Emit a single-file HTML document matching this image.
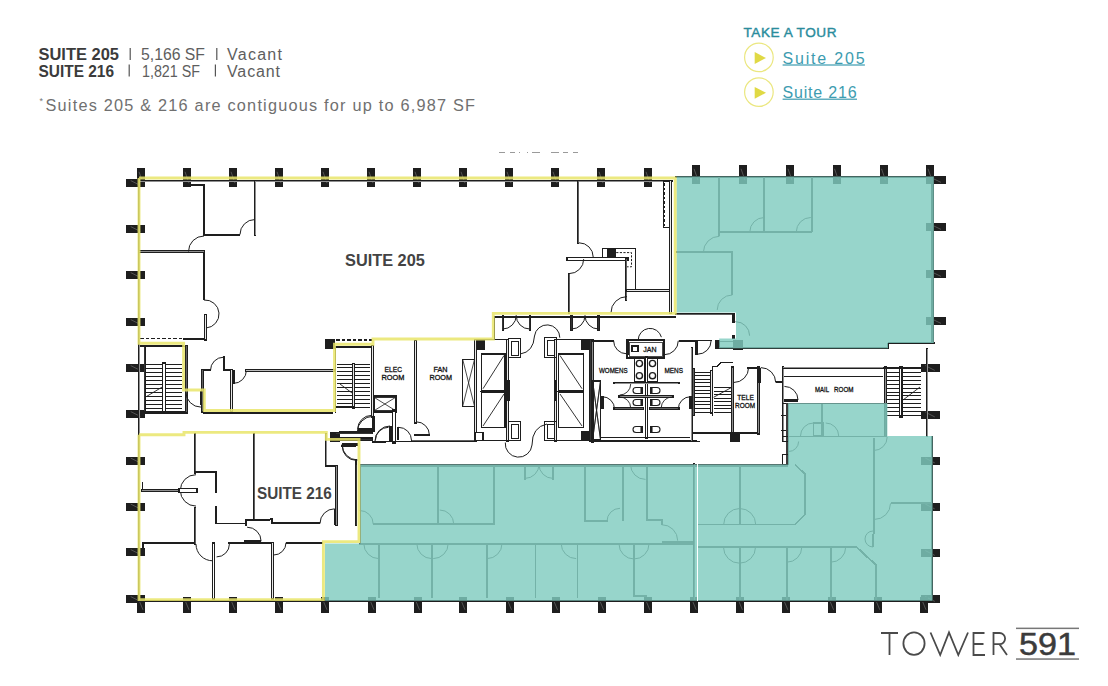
<!DOCTYPE html>
<html><head><meta charset="utf-8"><style>
html,body{margin:0;padding:0;background:#fff;}
body{width:1108px;height:686px;overflow:hidden;position:relative;}
svg{position:absolute;left:0;top:0;font-family:"Liberation Sans",sans-serif;}
#plan line,#plan polyline,#plan rect{shape-rendering:crispEdges;}
#plan polyline.y{shape-rendering:auto;}
</style></head><body>
<svg width="1108" height="686" viewBox="0 0 1108 686">
<g font-family="Liberation Sans">
<text x="38.5" y="60" font-weight="bold" font-size="16" fill="#3b3b3b" textLength="80.5" lengthAdjust="spacingAndGlyphs">SUITE 205</text>
<rect x="129.6" y="48" width="1.2" height="12" fill="#555"/>
<text x="141" y="60" font-size="16" fill="#5e5e5e" textLength="64" lengthAdjust="spacingAndGlyphs">5,166 SF</text>
<rect x="216.2" y="48" width="1.2" height="12" fill="#555"/>
<text x="227" y="60" font-size="16" fill="#5e5e5e" textLength="55" lengthAdjust="spacing">Vacant</text>
<text x="38.5" y="76.5" font-weight="bold" font-size="16" fill="#3b3b3b" textLength="75.5" lengthAdjust="spacingAndGlyphs">SUITE 216</text>
<rect x="128.6" y="64.5" width="1.2" height="12" fill="#555"/>
<text x="142" y="76.5" font-size="16" fill="#5e5e5e" textLength="58" lengthAdjust="spacingAndGlyphs">1,821 SF</text>
<rect x="214.8" y="64.5" width="1.2" height="12" fill="#555"/>
<text x="227" y="76.5" font-size="16" fill="#5e5e5e" textLength="53" lengthAdjust="spacing">Vacant</text>
<text x="39.5" y="104" font-size="9" fill="#777">*</text>
<text x="45.5" y="111" font-size="16.3" fill="#707070" textLength="429.5" lengthAdjust="spacing">Suites 205 &amp; 216 are contiguous for up to 6,987 SF</text>
<text x="743.5" y="37" font-size="13.6" fill="#2a8c9c" stroke="#2a8c9c" stroke-width="0.4" textLength="93" lengthAdjust="spacing">TAKE A TOUR</text>
<circle cx="758.9" cy="57.4" r="14.3" fill="none" stroke="#ebe780" stroke-width="1.2"/>
<polygon points="754.7,52 754.7,64 766,58" fill="#e0d944"/>
<text x="782.6" y="64.2" font-size="16" fill="#3d9cb0" textLength="82" lengthAdjust="spacing">Suite 205</text>
<rect x="782.6" y="64.4" width="82.3" height="1.2" fill="#3d9cb0"/>
<circle cx="758.9" cy="92.1" r="14.3" fill="none" stroke="#ebe780" stroke-width="1.2"/>
<polygon points="754.7,86.9 754.7,98.7 766,92.8" fill="#e0d944"/>
<text x="782.6" y="98.2" font-size="16" fill="#3d9cb0" textLength="74" lengthAdjust="spacing">Suite 216</text>
<rect x="782.6" y="98.6" width="74.4" height="1.2" fill="#3d9cb0"/>
</g>
<g stroke="#4a4a4a" stroke-width="1.8" fill="none" stroke-linecap="butt">
<path d="M881,633 H898 M889.5,633 V655"/>
<ellipse cx="914" cy="643.6" rx="10.6" ry="11.2"/>
<path d="M930.5,632.5 L940.2,655 L949,632.5 L958.3,655 L968,632.5"/>
<path d="M984.5,633 H973.5 V655 H985 M973.5,644 H983.5"/>
<path d="M993.5,655 V633 H999.5 A5.6,5.6 0 0 1 999.5,644.2 H993.5 M999.5,644.2 L1007,655"/>
</g>
<rect x="1016" y="627.6" width="63" height="1.5" fill="#777"/>
<text x="1019" y="655.3" font-family="Liberation Sans" font-size="31" fill="#3b3b3b" stroke="#3b3b3b" stroke-width="0.5" textLength="57" lengthAdjust="spacingAndGlyphs">591</text>
<rect x="1016" y="658.3" width="63" height="1.5" fill="#777"/>

<g id="plan">
<rect x="137" y="168" width="8" height="19" fill="#1e1e1e" />
<line x1="139" y1="171.8" x2="143" y2="183.2" stroke="#888" stroke-width="0.5"  style="shape-rendering:auto"/>
<rect x="183" y="168" width="8" height="19" fill="#1e1e1e" />
<line x1="185" y1="171.8" x2="189" y2="183.2" stroke="#888" stroke-width="0.5"  style="shape-rendering:auto"/>
<rect x="229" y="168" width="8" height="19" fill="#1e1e1e" />
<line x1="231" y1="171.8" x2="235" y2="183.2" stroke="#888" stroke-width="0.5"  style="shape-rendering:auto"/>
<rect x="275" y="168" width="8" height="19" fill="#1e1e1e" />
<line x1="277" y1="171.8" x2="281" y2="183.2" stroke="#888" stroke-width="0.5"  style="shape-rendering:auto"/>
<rect x="321" y="168" width="8" height="19" fill="#1e1e1e" />
<line x1="323" y1="171.8" x2="327" y2="183.2" stroke="#888" stroke-width="0.5"  style="shape-rendering:auto"/>
<rect x="367" y="168" width="8" height="19" fill="#1e1e1e" />
<line x1="369" y1="171.8" x2="373" y2="183.2" stroke="#888" stroke-width="0.5"  style="shape-rendering:auto"/>
<rect x="413" y="168" width="8" height="19" fill="#1e1e1e" />
<line x1="415" y1="171.8" x2="419" y2="183.2" stroke="#888" stroke-width="0.5"  style="shape-rendering:auto"/>
<rect x="459" y="168" width="8" height="19" fill="#1e1e1e" />
<line x1="461" y1="171.8" x2="465" y2="183.2" stroke="#888" stroke-width="0.5"  style="shape-rendering:auto"/>
<rect x="505" y="168" width="8" height="19" fill="#1e1e1e" />
<line x1="507" y1="171.8" x2="511" y2="183.2" stroke="#888" stroke-width="0.5"  style="shape-rendering:auto"/>
<rect x="551" y="168" width="8" height="19" fill="#1e1e1e" />
<line x1="553" y1="171.8" x2="557" y2="183.2" stroke="#888" stroke-width="0.5"  style="shape-rendering:auto"/>
<rect x="597" y="168" width="8" height="19" fill="#1e1e1e" />
<line x1="599" y1="171.8" x2="603" y2="183.2" stroke="#888" stroke-width="0.5"  style="shape-rendering:auto"/>
<rect x="644" y="168" width="8" height="19" fill="#1e1e1e" />
<line x1="646" y1="171.8" x2="650" y2="183.2" stroke="#888" stroke-width="0.5"  style="shape-rendering:auto"/>
<rect x="692" y="165" width="8" height="19" fill="#1e1e1e" />
<line x1="694" y1="168.8" x2="698" y2="180.2" stroke="#888" stroke-width="0.5"  style="shape-rendering:auto"/>
<rect x="739" y="165" width="8" height="19" fill="#1e1e1e" />
<line x1="741" y1="168.8" x2="745" y2="180.2" stroke="#888" stroke-width="0.5"  style="shape-rendering:auto"/>
<rect x="786" y="165" width="8" height="19" fill="#1e1e1e" />
<line x1="788" y1="168.8" x2="792" y2="180.2" stroke="#888" stroke-width="0.5"  style="shape-rendering:auto"/>
<rect x="832.5" y="165" width="8" height="19" fill="#1e1e1e" />
<line x1="834.5" y1="168.8" x2="838.5" y2="180.2" stroke="#888" stroke-width="0.5"  style="shape-rendering:auto"/>
<rect x="879.5" y="165" width="8" height="19" fill="#1e1e1e" />
<line x1="881.5" y1="168.8" x2="885.5" y2="180.2" stroke="#888" stroke-width="0.5"  style="shape-rendering:auto"/>
<rect x="926" y="165" width="8" height="19" fill="#1e1e1e" />
<line x1="928" y1="168.8" x2="932" y2="180.2" stroke="#888" stroke-width="0.5"  style="shape-rendering:auto"/>
<rect x="926" y="176" width="20" height="8" fill="#1e1e1e" />
<line x1="931" y1="177.6" x2="941" y2="182.4" stroke="#888" stroke-width="0.5"  style="shape-rendering:auto"/>
<rect x="126" y="179" width="19" height="8" fill="#1e1e1e" />
<line x1="130.75" y1="180.6" x2="140.25" y2="185.4" stroke="#888" stroke-width="0.5"  style="shape-rendering:auto"/>
<rect x="126" y="225" width="19" height="8" fill="#1e1e1e" />
<line x1="130.75" y1="226.6" x2="140.25" y2="231.4" stroke="#888" stroke-width="0.5"  style="shape-rendering:auto"/>
<rect x="126" y="271" width="19" height="8" fill="#1e1e1e" />
<line x1="130.75" y1="272.6" x2="140.25" y2="277.4" stroke="#888" stroke-width="0.5"  style="shape-rendering:auto"/>
<rect x="126" y="318" width="19" height="8" fill="#1e1e1e" />
<line x1="130.75" y1="319.6" x2="140.25" y2="324.4" stroke="#888" stroke-width="0.5"  style="shape-rendering:auto"/>
<rect x="126" y="364" width="19" height="8" fill="#1e1e1e" />
<line x1="130.75" y1="365.6" x2="140.25" y2="370.4" stroke="#888" stroke-width="0.5"  style="shape-rendering:auto"/>
<rect x="126" y="410" width="19" height="8" fill="#1e1e1e" />
<line x1="130.75" y1="411.6" x2="140.25" y2="416.4" stroke="#888" stroke-width="0.5"  style="shape-rendering:auto"/>
<rect x="126" y="456.5" width="19" height="8" fill="#1e1e1e" />
<line x1="130.75" y1="458.1" x2="140.25" y2="462.9" stroke="#888" stroke-width="0.5"  style="shape-rendering:auto"/>
<rect x="126" y="502.5" width="19" height="8" fill="#1e1e1e" />
<line x1="130.75" y1="504.1" x2="140.25" y2="508.9" stroke="#888" stroke-width="0.5"  style="shape-rendering:auto"/>
<rect x="126" y="548" width="19" height="8" fill="#1e1e1e" />
<line x1="130.75" y1="549.6" x2="140.25" y2="554.4" stroke="#888" stroke-width="0.5"  style="shape-rendering:auto"/>
<rect x="126" y="595" width="19" height="8" fill="#1e1e1e" />
<line x1="130.75" y1="596.6" x2="140.25" y2="601.4" stroke="#888" stroke-width="0.5"  style="shape-rendering:auto"/>
<rect x="926" y="223" width="20" height="8" fill="#1e1e1e" />
<line x1="931" y1="224.6" x2="941" y2="229.4" stroke="#888" stroke-width="0.5"  style="shape-rendering:auto"/>
<rect x="926" y="270" width="20" height="8" fill="#1e1e1e" />
<line x1="931" y1="271.6" x2="941" y2="276.4" stroke="#888" stroke-width="0.5"  style="shape-rendering:auto"/>
<rect x="926" y="317" width="20" height="8" fill="#1e1e1e" />
<line x1="931" y1="318.6" x2="941" y2="323.4" stroke="#888" stroke-width="0.5"  style="shape-rendering:auto"/>
<rect x="920.5" y="364" width="19" height="8" fill="#1e1e1e" />
<line x1="925.25" y1="365.6" x2="934.75" y2="370.4" stroke="#888" stroke-width="0.5"  style="shape-rendering:auto"/>
<rect x="920.5" y="410.5" width="19" height="8" fill="#1e1e1e" />
<line x1="925.25" y1="412.1" x2="934.75" y2="416.9" stroke="#888" stroke-width="0.5"  style="shape-rendering:auto"/>
<rect x="920.5" y="456.5" width="19" height="8" fill="#1e1e1e" />
<line x1="925.25" y1="458.1" x2="934.75" y2="462.9" stroke="#888" stroke-width="0.5"  style="shape-rendering:auto"/>
<rect x="920.5" y="502.5" width="19" height="8" fill="#1e1e1e" />
<line x1="925.25" y1="504.1" x2="934.75" y2="508.9" stroke="#888" stroke-width="0.5"  style="shape-rendering:auto"/>
<rect x="920.5" y="549" width="19" height="8" fill="#1e1e1e" />
<line x1="925.25" y1="550.6" x2="934.75" y2="555.4" stroke="#888" stroke-width="0.5"  style="shape-rendering:auto"/>
<rect x="920.5" y="595" width="19" height="8" fill="#1e1e1e" />
<line x1="925.25" y1="596.6" x2="934.75" y2="601.4" stroke="#888" stroke-width="0.5"  style="shape-rendering:auto"/>
<rect x="137" y="597" width="8" height="16" fill="#1e1e1e" />
<line x1="139" y1="600.2" x2="143" y2="609.8" stroke="#888" stroke-width="0.5"  style="shape-rendering:auto"/>
<rect x="183" y="597" width="8" height="16" fill="#1e1e1e" />
<line x1="185" y1="600.2" x2="189" y2="609.8" stroke="#888" stroke-width="0.5"  style="shape-rendering:auto"/>
<rect x="229" y="597" width="8" height="16" fill="#1e1e1e" />
<line x1="231" y1="600.2" x2="235" y2="609.8" stroke="#888" stroke-width="0.5"  style="shape-rendering:auto"/>
<rect x="275" y="597" width="8" height="16" fill="#1e1e1e" />
<line x1="277" y1="600.2" x2="281" y2="609.8" stroke="#888" stroke-width="0.5"  style="shape-rendering:auto"/>
<rect x="321" y="597" width="8" height="16" fill="#1e1e1e" />
<line x1="323" y1="600.2" x2="327" y2="609.8" stroke="#888" stroke-width="0.5"  style="shape-rendering:auto"/>
<rect x="368" y="597" width="8" height="16" fill="#1e1e1e" />
<line x1="370" y1="600.2" x2="374" y2="609.8" stroke="#888" stroke-width="0.5"  style="shape-rendering:auto"/>
<rect x="413.5" y="597" width="8" height="16" fill="#1e1e1e" />
<line x1="415.5" y1="600.2" x2="419.5" y2="609.8" stroke="#888" stroke-width="0.5"  style="shape-rendering:auto"/>
<rect x="459" y="597" width="8" height="16" fill="#1e1e1e" />
<line x1="461" y1="600.2" x2="465" y2="609.8" stroke="#888" stroke-width="0.5"  style="shape-rendering:auto"/>
<rect x="505.5" y="597" width="8" height="16" fill="#1e1e1e" />
<line x1="507.5" y1="600.2" x2="511.5" y2="609.8" stroke="#888" stroke-width="0.5"  style="shape-rendering:auto"/>
<rect x="551.5" y="597" width="8" height="16" fill="#1e1e1e" />
<line x1="553.5" y1="600.2" x2="557.5" y2="609.8" stroke="#888" stroke-width="0.5"  style="shape-rendering:auto"/>
<rect x="597.6" y="597" width="8" height="16" fill="#1e1e1e" />
<line x1="599.6" y1="600.2" x2="603.6" y2="609.8" stroke="#888" stroke-width="0.5"  style="shape-rendering:auto"/>
<rect x="643.8" y="597" width="8" height="16" fill="#1e1e1e" />
<line x1="645.8" y1="600.2" x2="649.8" y2="609.8" stroke="#888" stroke-width="0.5"  style="shape-rendering:auto"/>
<rect x="690.2" y="597" width="8" height="16" fill="#1e1e1e" />
<line x1="692.2" y1="600.2" x2="696.2" y2="609.8" stroke="#888" stroke-width="0.5"  style="shape-rendering:auto"/>
<rect x="736.4" y="597" width="8" height="16" fill="#1e1e1e" />
<line x1="738.4" y1="600.2" x2="742.4" y2="609.8" stroke="#888" stroke-width="0.5"  style="shape-rendering:auto"/>
<rect x="781.8" y="597" width="8" height="16" fill="#1e1e1e" />
<line x1="783.8" y1="600.2" x2="787.8" y2="609.8" stroke="#888" stroke-width="0.5"  style="shape-rendering:auto"/>
<rect x="827.6" y="597" width="8" height="16" fill="#1e1e1e" />
<line x1="829.6" y1="600.2" x2="833.6" y2="609.8" stroke="#888" stroke-width="0.5"  style="shape-rendering:auto"/>
<rect x="873.8" y="597" width="8" height="16" fill="#1e1e1e" />
<line x1="875.8" y1="600.2" x2="879.8" y2="609.8" stroke="#888" stroke-width="0.5"  style="shape-rendering:auto"/>
<rect x="920" y="597" width="8" height="16" fill="#1e1e1e" />
<line x1="922" y1="600.2" x2="926" y2="609.8" stroke="#888" stroke-width="0.5"  style="shape-rendering:auto"/>
<rect x="325" y="339" width="10" height="10" fill="#1e1e1e" />
<rect x="474.5" y="340" width="10" height="10" fill="#1e1e1e" />
<rect x="581" y="340" width="10" height="10" fill="#1e1e1e" />
<rect x="581" y="431" width="10" height="10" fill="#1e1e1e" />
<rect x="729.5" y="431.5" width="10" height="10" fill="#1e1e1e" />
<rect x="732.5" y="339.5" width="10" height="10" fill="#1e1e1e" />
<rect x="330" y="431.6" width="10" height="10" fill="#1e1e1e" />
<polyline points="139,181 672,181" stroke="#1e1e1e" stroke-width="2.6" fill="none" stroke-linecap="square"/>
<polyline points="139,181 672,181" stroke="#fff" stroke-width="0.5" fill="none"/>
<line x1="675" y1="177" x2="935" y2="177" stroke="#1e1e1e" stroke-width="1.5" />
<polyline points="139,179 139,601" stroke="#1e1e1e" stroke-width="2.6" fill="none" stroke-linecap="square"/>
<polyline points="139,179 139,601" stroke="#fff" stroke-width="0.5" fill="none"/>
<line x1="139" y1="601.2" x2="933" y2="601.2" stroke="#1e1e1e" stroke-width="1.6" />
<line x1="932.5" y1="177" x2="932.5" y2="343" stroke="#1e1e1e" stroke-width="2.2" />
<polyline points="927,349 927,436" stroke="#1e1e1e" stroke-width="2.6" fill="none" stroke-linecap="square"/>
<polyline points="927,349 927,436" stroke="#fff" stroke-width="0.5" fill="none"/>
<line x1="932" y1="436" x2="932" y2="601" stroke="#1e1e1e" stroke-width="2.2" />
<polyline points="191,184.5 204,184.5 204,234.5 240,234.5" stroke="#1e1e1e" stroke-width="2.0" fill="none" />
<path d="M240,234.5 A15,15 0 0 1 255,219.5" stroke="#1e1e1e" stroke-width="1.0" fill="none" />
<polyline points="255,181 255,234.5" stroke="#1e1e1e" stroke-width="2.6" fill="none" stroke-linecap="square"/>
<polyline points="255,181 255,234.5" stroke="#fff" stroke-width="0.5" fill="none"/>
<polyline points="139,251.5 204,251.5" stroke="#1e1e1e" stroke-width="2.6" fill="none" stroke-linecap="square"/>
<polyline points="139,251.5 204,251.5" stroke="#fff" stroke-width="0.5" fill="none"/>
<path d="M188.5,251.5 A15.5,15.5 0 0 1 204,236" stroke="#1e1e1e" stroke-width="1.0" fill="none" />
<polyline points="204,251.5 204,300" stroke="#1e1e1e" stroke-width="2.0" fill="none" />
<path d="M204,300 A14,14 0 0 1 206,328" stroke="#1e1e1e" stroke-width="1.0" fill="none" />
<polyline points="205,315 205,339" stroke="#1e1e1e" stroke-width="3" fill="none" stroke-linecap="square"/>
<polyline points="205,315 205,339" stroke="#fff" stroke-width="0.9" fill="none"/>
<polyline points="182.5,339 204,339" stroke="#1e1e1e" stroke-width="2.0" fill="none" />
<line x1="140" y1="338.7" x2="182.5" y2="338.7" stroke="#1e1e1e" stroke-width="1.3" stroke-dasharray="3.5,2"/>
<polyline points="578,181 578,242.8" stroke="#1e1e1e" stroke-width="2.4" fill="none" stroke-linecap="square"/>
<polyline points="578,181 578,242.8" stroke="#fff" stroke-width="0.3" fill="none"/>
<path d="M579,242.8 A14.2,14.2 0 0 1 593.2,257" stroke="#1e1e1e" stroke-width="1.0" fill="none" />
<polyline points="568,259 627,259" stroke="#1e1e1e" stroke-width="3.2" fill="none" stroke-linecap="square"/>
<polyline points="568,259 627,259" stroke="#fff" stroke-width="1.1" fill="none"/>
<path d="M583.7,259.1 A14.5,14.5 0 0 1 569.2,273.6" stroke="#1e1e1e" stroke-width="1.0" fill="none" />
<polyline points="569,274.4 569,312.6" stroke="#1e1e1e" stroke-width="2.4" fill="none" stroke-linecap="square"/>
<polyline points="569,274.4 569,312.6" stroke="#fff" stroke-width="0.3" fill="none"/>
<rect x="602" y="248.2" width="5.4" height="8.8" fill="none" stroke="#1e1e1e" stroke-width="1.0"/>
<rect x="607.4" y="249.3" width="8.8" height="7.7" fill="#1e1e1e" />
<path d="M616.2,252.6 H631.5 V266.8 H627" stroke="#1e1e1e" stroke-width="1.0" fill="none" stroke-dasharray="2.2,1.4"/>
<polyline points="602,248.2 635.8,248.2 635.8,288.6" stroke="#1e1e1e" stroke-width="1.3" fill="none" />
<polyline points="626,259 626,299.5" stroke="#1e1e1e" stroke-width="2.4" fill="none" stroke-linecap="square"/>
<polyline points="626,259 626,299.5" stroke="#fff" stroke-width="0.3" fill="none"/>
<path d="M611,312.6 A16,16 0 0 1 627,296.6" stroke="#1e1e1e" stroke-width="1.0" fill="none" />
<polyline points="627,290.2 669.7,290.2" stroke="#1e1e1e" stroke-width="3" fill="none" stroke-linecap="square"/>
<polyline points="627,290.2 669.7,290.2" stroke="#fff" stroke-width="0.9" fill="none"/>
<polyline points="670.2,181 670.2,312.6" stroke="#1e1e1e" stroke-width="3" fill="none" stroke-linecap="square"/>
<polyline points="670.2,181 670.2,312.6" stroke="#fff" stroke-width="0.9" fill="none"/>
<rect x="663.1" y="181" width="5.9" height="46.4" fill="none" stroke="#1e1e1e" stroke-width="1.0"/>
<line x1="664.5" y1="183" x2="664.5" y2="226" stroke="#1e1e1e" stroke-width="1.1" stroke-dasharray="2.5,2"/>
<polyline points="502.7,316 502.7,329.5" stroke="#1e1e1e" stroke-width="2.2" fill="none" stroke-linecap="square"/>
<polyline points="502.7,316 502.7,329.5" stroke="#fff" stroke-width="0.1" fill="none"/>
<polyline points="529.7,316 529.7,329.5" stroke="#1e1e1e" stroke-width="2.2" fill="none" stroke-linecap="square"/>
<polyline points="529.7,316 529.7,329.5" stroke="#fff" stroke-width="0.1" fill="none"/>
<path d="M502.7,329 A13.5,13.5 0 0 0 516.2,315.5" stroke="#1e1e1e" stroke-width="1.0" fill="none" />
<path d="M529.7,329 A13.5,13.5 0 0 1 516.2,315.5" stroke="#1e1e1e" stroke-width="1.0" fill="none" />
<polyline points="571.5,316 571.5,329.5" stroke="#1e1e1e" stroke-width="2.2" fill="none" stroke-linecap="square"/>
<polyline points="571.5,316 571.5,329.5" stroke="#fff" stroke-width="0.1" fill="none"/>
<polyline points="598.5,316 598.5,329.5" stroke="#1e1e1e" stroke-width="2.2" fill="none" stroke-linecap="square"/>
<polyline points="598.5,316 598.5,329.5" stroke="#fff" stroke-width="0.1" fill="none"/>
<path d="M571.5,329 A13.5,13.5 0 0 0 585,315.5" stroke="#1e1e1e" stroke-width="1.0" fill="none" />
<path d="M598.5,329 A13.5,13.5 0 0 1 585,315.5" stroke="#1e1e1e" stroke-width="1.0" fill="none" />
<line x1="494.5" y1="316.8" x2="676" y2="316.8" stroke="#1e1e1e" stroke-width="2.0" />
<line x1="494.5" y1="316" x2="494.5" y2="340" stroke="#1e1e1e" stroke-width="1.4" />
<line x1="145.4" y1="364.5" x2="161.5" y2="364.5" stroke="#1e1e1e" stroke-width="1.0" />
<line x1="145.4" y1="368.5" x2="161.5" y2="368.5" stroke="#1e1e1e" stroke-width="1.0" />
<line x1="145.4" y1="372.5" x2="161.5" y2="372.5" stroke="#1e1e1e" stroke-width="1.0" />
<line x1="145.4" y1="376.5" x2="161.5" y2="376.5" stroke="#1e1e1e" stroke-width="1.0" />
<line x1="145.4" y1="380.5" x2="161.5" y2="380.5" stroke="#1e1e1e" stroke-width="1.0" />
<line x1="145.4" y1="384.5" x2="161.5" y2="384.5" stroke="#1e1e1e" stroke-width="1.0" />
<line x1="145.4" y1="388.5" x2="161.5" y2="388.5" stroke="#1e1e1e" stroke-width="1.0" />
<line x1="145.4" y1="392.5" x2="161.5" y2="392.5" stroke="#1e1e1e" stroke-width="1.0" />
<line x1="145.4" y1="396.5" x2="161.5" y2="396.5" stroke="#1e1e1e" stroke-width="1.0" />
<line x1="145.4" y1="400.5" x2="161.5" y2="400.5" stroke="#1e1e1e" stroke-width="1.0" />
<line x1="145.4" y1="404.5" x2="161.5" y2="404.5" stroke="#1e1e1e" stroke-width="1.0" />
<line x1="145.4" y1="408.5" x2="161.5" y2="408.5" stroke="#1e1e1e" stroke-width="1.0" />
<line x1="145.4" y1="412.5" x2="161.5" y2="412.5" stroke="#1e1e1e" stroke-width="1.0" />
<line x1="165.9" y1="364.5" x2="181.6" y2="364.5" stroke="#1e1e1e" stroke-width="1.0" />
<line x1="165.9" y1="368.5" x2="181.6" y2="368.5" stroke="#1e1e1e" stroke-width="1.0" />
<line x1="165.9" y1="372.5" x2="181.6" y2="372.5" stroke="#1e1e1e" stroke-width="1.0" />
<line x1="165.9" y1="376.5" x2="181.6" y2="376.5" stroke="#1e1e1e" stroke-width="1.0" />
<line x1="165.9" y1="380.5" x2="181.6" y2="380.5" stroke="#1e1e1e" stroke-width="1.0" />
<line x1="165.9" y1="384.5" x2="181.6" y2="384.5" stroke="#1e1e1e" stroke-width="1.0" />
<line x1="165.9" y1="388.5" x2="181.6" y2="388.5" stroke="#1e1e1e" stroke-width="1.0" />
<line x1="165.9" y1="392.5" x2="181.6" y2="392.5" stroke="#1e1e1e" stroke-width="1.0" />
<line x1="165.9" y1="396.5" x2="181.6" y2="396.5" stroke="#1e1e1e" stroke-width="1.0" />
<line x1="165.9" y1="400.5" x2="181.6" y2="400.5" stroke="#1e1e1e" stroke-width="1.0" />
<line x1="165.9" y1="404.5" x2="181.6" y2="404.5" stroke="#1e1e1e" stroke-width="1.0" />
<line x1="165.9" y1="408.5" x2="181.6" y2="408.5" stroke="#1e1e1e" stroke-width="1.0" />
<line x1="165.9" y1="412.5" x2="181.6" y2="412.5" stroke="#1e1e1e" stroke-width="1.0" />
<polyline points="163.7,364 163.7,412.3" stroke="#1e1e1e" stroke-width="4.2" fill="none" stroke-linecap="square"/>
<polyline points="163.7,364 163.7,412.3" stroke="#fff" stroke-width="2.1" fill="none"/>
<line x1="145" y1="397.4" x2="162.4" y2="386.9" stroke="#1e1e1e" stroke-width="0.9"  style="shape-rendering:auto"/>
<polyline points="144.7,346 144.7,412.3" stroke="#1e1e1e" stroke-width="2.2" fill="none" stroke-linecap="square"/>
<polyline points="144.7,346 144.7,412.3" stroke="#fff" stroke-width="0.1" fill="none"/>
<line x1="144" y1="412.5" x2="186" y2="412.5" stroke="#1e1e1e" stroke-width="2.2" />
<line x1="183.4" y1="346" x2="186.5" y2="346" stroke="#1e1e1e" stroke-width="1" />
<line x1="140" y1="346.2" x2="184" y2="346.2" stroke="#1e1e1e" stroke-width="2.0" />
<polyline points="186.5,346 186.5,412.3" stroke="#1e1e1e" stroke-width="2.4" fill="none" stroke-linecap="square"/>
<polyline points="186.5,346 186.5,412.3" stroke="#fff" stroke-width="0.3" fill="none"/>
<path d="M185.9,392.1 A15,15 0 0 0 200.9,407.1" stroke="#1e1e1e" stroke-width="1.0" fill="none" />
<rect x="200" y="391.3" width="2.8" height="14" fill="#1e1e1e" />
<polyline points="202.6,370.3 202.6,411.4" stroke="#1e1e1e" stroke-width="2.4" fill="none" stroke-linecap="square"/>
<polyline points="202.6,370.3 202.6,411.4" stroke="#fff" stroke-width="0.3" fill="none"/>
<polyline points="202.6,370.3 210.5,370.3" stroke="#1e1e1e" stroke-width="2.0" fill="none" />
<path d="M210.5,370.3 A13.1,13.1 0 0 1 223.6,357.2" stroke="#1e1e1e" stroke-width="1.0" fill="none" />
<rect x="222.8" y="356.3" width="2.6" height="14.7" fill="#1e1e1e" />
<polyline points="225.4,370.3 231.5,370.3" stroke="#1e1e1e" stroke-width="2.0" fill="none" />
<polyline points="231.5,370.3 231.5,410.5" stroke="#1e1e1e" stroke-width="3" fill="none" stroke-linecap="square"/>
<polyline points="231.5,370.3 231.5,410.5" stroke="#fff" stroke-width="0.9" fill="none"/>
<path d="M246.4,370.3 A13.1,13.1 0 0 1 233.3,383.4" stroke="#1e1e1e" stroke-width="1.0" fill="none" />
<rect x="232.5" y="370.3" width="2.6" height="14" fill="#1e1e1e" />
<polyline points="246.4,370.7 333.7,370.7" stroke="#1e1e1e" stroke-width="2.8" fill="none" stroke-linecap="square"/>
<polyline points="246.4,370.7 333.7,370.7" stroke="#fff" stroke-width="0.7" fill="none"/>
<line x1="203" y1="413" x2="333" y2="413" stroke="#1e1e1e" stroke-width="1.4" />
<line x1="335.5" y1="346" x2="335.5" y2="413" stroke="#1e1e1e" stroke-width="1.8" />
<line x1="337" y1="364.5" x2="352.5" y2="364.5" stroke="#1e1e1e" stroke-width="1.0" />
<line x1="337" y1="367.5" x2="352.5" y2="367.5" stroke="#1e1e1e" stroke-width="1.0" />
<line x1="337" y1="371.5" x2="352.5" y2="371.5" stroke="#1e1e1e" stroke-width="1.0" />
<line x1="337" y1="375.5" x2="352.5" y2="375.5" stroke="#1e1e1e" stroke-width="1.0" />
<line x1="337" y1="379.5" x2="352.5" y2="379.5" stroke="#1e1e1e" stroke-width="1.0" />
<line x1="337" y1="383.5" x2="352.5" y2="383.5" stroke="#1e1e1e" stroke-width="1.0" />
<line x1="337" y1="387.5" x2="352.5" y2="387.5" stroke="#1e1e1e" stroke-width="1.0" />
<line x1="337" y1="391.5" x2="352.5" y2="391.5" stroke="#1e1e1e" stroke-width="1.0" />
<line x1="337" y1="395.5" x2="352.5" y2="395.5" stroke="#1e1e1e" stroke-width="1.0" />
<line x1="337" y1="399.5" x2="352.5" y2="399.5" stroke="#1e1e1e" stroke-width="1.0" />
<line x1="337" y1="403.5" x2="352.5" y2="403.5" stroke="#1e1e1e" stroke-width="1.0" />
<line x1="337" y1="407.5" x2="352.5" y2="407.5" stroke="#1e1e1e" stroke-width="1.0" />
<line x1="354.4" y1="364.5" x2="370.2" y2="364.5" stroke="#1e1e1e" stroke-width="1.0" />
<line x1="354.4" y1="367.5" x2="370.2" y2="367.5" stroke="#1e1e1e" stroke-width="1.0" />
<line x1="354.4" y1="371.5" x2="370.2" y2="371.5" stroke="#1e1e1e" stroke-width="1.0" />
<line x1="354.4" y1="375.5" x2="370.2" y2="375.5" stroke="#1e1e1e" stroke-width="1.0" />
<line x1="354.4" y1="379.5" x2="370.2" y2="379.5" stroke="#1e1e1e" stroke-width="1.0" />
<line x1="354.4" y1="383.5" x2="370.2" y2="383.5" stroke="#1e1e1e" stroke-width="1.0" />
<line x1="354.4" y1="387.5" x2="370.2" y2="387.5" stroke="#1e1e1e" stroke-width="1.0" />
<line x1="354.4" y1="391.5" x2="370.2" y2="391.5" stroke="#1e1e1e" stroke-width="1.0" />
<line x1="354.4" y1="395.5" x2="370.2" y2="395.5" stroke="#1e1e1e" stroke-width="1.0" />
<line x1="354.4" y1="399.5" x2="370.2" y2="399.5" stroke="#1e1e1e" stroke-width="1.0" />
<line x1="354.4" y1="403.5" x2="370.2" y2="403.5" stroke="#1e1e1e" stroke-width="1.0" />
<line x1="354.4" y1="407.5" x2="370.2" y2="407.5" stroke="#1e1e1e" stroke-width="1.0" />
<polyline points="353.5,364 353.5,407.5" stroke="#1e1e1e" stroke-width="3" fill="none" stroke-linecap="square"/>
<polyline points="353.5,364 353.5,407.5" stroke="#fff" stroke-width="0.9" fill="none"/>
<line x1="340" y1="384" x2="352" y2="393" stroke="#1e1e1e" stroke-width="0.9"  style="shape-rendering:auto"/>
<line x1="336" y1="340" x2="372" y2="340" stroke="#1e1e1e" stroke-width="1.2" stroke-dasharray="3.5,2"/>
<line x1="336" y1="407.3" x2="354" y2="407.3" stroke="#1e1e1e" stroke-width="2.2" />
<line x1="336" y1="346.7" x2="372.3" y2="346.7" stroke="#1e1e1e" stroke-width="2.0" />
<polyline points="372,346 372,416" stroke="#1e1e1e" stroke-width="3" fill="none" stroke-linecap="square"/>
<polyline points="372,346 372,416" stroke="#fff" stroke-width="0.9" fill="none"/>
<polyline points="415,341 415,422" stroke="#1e1e1e" stroke-width="3" fill="none" stroke-linecap="square"/>
<polyline points="415,341 415,422" stroke="#fff" stroke-width="0.9" fill="none"/>
<rect x="373.5" y="396.4" width="22.9" height="15.1" fill="none" stroke="#1e1e1e" stroke-width="2.0"/>
<rect x="374.5" y="397.6" width="20.7" height="12.8" fill="none" stroke="#1e1e1e" stroke-width="0.9"/>
<line x1="374.5" y1="397.6" x2="395.2" y2="410.4" stroke="#1e1e1e" stroke-width="0.8"  style="shape-rendering:auto"/>
<line x1="395.2" y1="397.6" x2="374.5" y2="410.4" stroke="#1e1e1e" stroke-width="0.8"  style="shape-rendering:auto"/>
<polyline points="393.8,411.5 393.8,441.7" stroke="#1e1e1e" stroke-width="4.5" fill="none" stroke-linecap="square"/>
<polyline points="393.8,411.5 393.8,441.7" stroke="#fff" stroke-width="2.4" fill="none"/>
<path d="M357.7,429.2 A13.8,13.8 0 0 1 371.5,415.4" stroke="#1e1e1e" stroke-width="1.0" fill="none" />
<rect x="357.7" y="428.4" width="13.8" height="2.2" fill="#1e1e1e" />
<polyline points="340,432.5 371.5,432.5" stroke="#1e1e1e" stroke-width="2.2" fill="none" stroke-linecap="square"/>
<polyline points="340,432.5 371.5,432.5" stroke="#fff" stroke-width="0.1" fill="none"/>
<polyline points="340,438.2 371.5,438.2" stroke="#1e1e1e" stroke-width="2.2" fill="none" stroke-linecap="square"/>
<polyline points="340,438.2 371.5,438.2" stroke="#fff" stroke-width="0.1" fill="none"/>
<path d="M375.4,440.4 A13.1,13.1 0 0 1 388.5,427.3" stroke="#1e1e1e" stroke-width="1.0" fill="none" />
<rect x="388.5" y="427.3" width="2" height="13.1" fill="#1e1e1e" />
<path d="M398.4,427.3 A13.1,13.1 0 0 1 411.5,440.4" stroke="#1e1e1e" stroke-width="1.0" fill="none" />
<rect x="397" y="427.3" width="2" height="13.1" fill="#1e1e1e" />
<path d="M416.1,421.8 A13.3,13.3 0 0 1 429.4,435.1" stroke="#1e1e1e" stroke-width="1.0" fill="none" />
<rect x="413.5" y="433.8" width="16.5" height="2" fill="#1e1e1e" />
<polyline points="412,440.7 475,440.7" stroke="#1e1e1e" stroke-width="2.4" fill="none" stroke-linecap="square"/>
<polyline points="412,440.7 475,440.7" stroke="#fff" stroke-width="0.3" fill="none"/>
<line x1="372" y1="441.5" x2="386" y2="441.5" stroke="#1e1e1e" stroke-width="2.0" />
<path d="M342,444.3 A15.7,15.7 0 0 0 357.7,460" stroke="#1e1e1e" stroke-width="1.0" fill="none" />
<rect x="342" y="443.3" width="15.7" height="2.8" fill="#1e1e1e" />
<line x1="356.3" y1="459" x2="356.3" y2="470" stroke="#1e1e1e" stroke-width="2.2" />
<polyline points="475.5,340 475.5,440.4" stroke="#1e1e1e" stroke-width="3" fill="none" stroke-linecap="square"/>
<polyline points="475.5,340 475.5,440.4" stroke="#fff" stroke-width="0.9" fill="none"/>
<polyline points="507.5,340 507.5,440.4" stroke="#1e1e1e" stroke-width="3" fill="none" stroke-linecap="square"/>
<polyline points="507.5,340 507.5,440.4" stroke="#fff" stroke-width="0.9" fill="none"/>
<line x1="474" y1="339.6" x2="509" y2="339.6" stroke="#1e1e1e" stroke-width="1.5" />
<line x1="474" y1="440.6" x2="509" y2="440.6" stroke="#1e1e1e" stroke-width="1.5" />
<rect x="481.7" y="354" width="23.3" height="36.2" fill="none" stroke="#1e1e1e" stroke-width="1.3"/>
<line x1="483" y1="388.7" x2="504" y2="355.5" stroke="#1e1e1e" stroke-width="0.9"  style="shape-rendering:auto"/>
<rect x="481.7" y="392.5" width="23.3" height="35" fill="none" stroke="#1e1e1e" stroke-width="1.3"/>
<line x1="483" y1="426" x2="504" y2="394" stroke="#1e1e1e" stroke-width="0.9"  style="shape-rendering:auto"/>
<line x1="480" y1="391.4" x2="507" y2="391.4" stroke="#1e1e1e" stroke-width="1.4" />
<rect x="506.6" y="379.7" width="3.5" height="21" fill="#1e1e1e" />
<rect x="475.5" y="432.5" width="7.5" height="7.9" fill="#fff" stroke="#1e1e1e" stroke-width="1.1"/>
<rect x="508.5" y="338.8" width="11.7" height="18.7" fill="none" stroke="#1e1e1e" stroke-width="1.4"/>
<rect x="511" y="341" width="7" height="14" fill="none" stroke="#1e1e1e" stroke-width="1.0"/>
<rect x="508.5" y="421.7" width="11.7" height="18.7" fill="none" stroke="#1e1e1e" stroke-width="1.4"/>
<rect x="511" y="424" width="7" height="14" fill="none" stroke="#1e1e1e" stroke-width="1.0"/>
<polyline points="555,340 555,440.4" stroke="#1e1e1e" stroke-width="3" fill="none" stroke-linecap="square"/>
<polyline points="555,340 555,440.4" stroke="#fff" stroke-width="0.9" fill="none"/>
<polyline points="590.5,340 590.5,440.4" stroke="#1e1e1e" stroke-width="2.2" fill="none" stroke-linecap="square"/>
<polyline points="590.5,340 590.5,440.4" stroke="#fff" stroke-width="0.1" fill="none"/>
<line x1="553.5" y1="339.6" x2="592" y2="339.6" stroke="#1e1e1e" stroke-width="1.5" />
<line x1="553.5" y1="440.6" x2="592" y2="440.6" stroke="#1e1e1e" stroke-width="1.5" />
<rect x="558.7" y="354" width="24.5" height="36.2" fill="none" stroke="#1e1e1e" stroke-width="1.3"/>
<line x1="560" y1="355.5" x2="582" y2="388.7" stroke="#1e1e1e" stroke-width="0.9"  style="shape-rendering:auto"/>
<rect x="558.7" y="392.5" width="24.5" height="35" fill="none" stroke="#1e1e1e" stroke-width="1.3"/>
<line x1="560" y1="394" x2="582" y2="426" stroke="#1e1e1e" stroke-width="0.9"  style="shape-rendering:auto"/>
<line x1="557" y1="391.4" x2="584" y2="391.4" stroke="#1e1e1e" stroke-width="1.4" />
<rect x="553.5" y="379.7" width="3.5" height="21" fill="#1e1e1e" />
<rect x="544.7" y="337.7" width="11.6" height="19.8" fill="none" stroke="#1e1e1e" stroke-width="1.4"/>
<rect x="547" y="340" width="7" height="15" fill="none" stroke="#1e1e1e" stroke-width="1.0"/>
<rect x="544.7" y="421.7" width="11.6" height="18.7" fill="none" stroke="#1e1e1e" stroke-width="1.4"/>
<rect x="547" y="424" width="7" height="14" fill="none" stroke="#1e1e1e" stroke-width="1.0"/>
<path d="M520.2,354 Q533.5,352 534.5,336 A12.7,12.7 0 0 1 559.8,337.7" stroke="#1e1e1e" stroke-width="1.0" fill="none" />
<path d="M547,424 Q532,427 532,445 A13.3,13.3 0 0 1 505.3,442.5" stroke="#1e1e1e" stroke-width="1.0" fill="none" />
<rect x="462.7" y="359.4" width="11.8" height="46.8" fill="none" stroke="#1e1e1e" stroke-width="1.3"/>
<line x1="462.7" y1="359.4" x2="474.5" y2="406.2" stroke="#1e1e1e" stroke-width="0.8"  style="shape-rendering:auto"/>
<line x1="474.5" y1="359.4" x2="462.7" y2="406.2" stroke="#1e1e1e" stroke-width="0.8"  style="shape-rendering:auto"/>
<rect x="592.6" y="381" width="7.9" height="58.6" fill="none" stroke="#1e1e1e" stroke-width="1.3"/>
<line x1="592.6" y1="381" x2="600.5" y2="439.6" stroke="#1e1e1e" stroke-width="0.8"  style="shape-rendering:auto"/>
<line x1="600.5" y1="381" x2="592.6" y2="439.6" stroke="#1e1e1e" stroke-width="0.8"  style="shape-rendering:auto"/>
<line x1="591.5" y1="340" x2="591.5" y2="441" stroke="#1e1e1e" stroke-width="1.6" />
<line x1="600.8" y1="381" x2="600.8" y2="441" stroke="#1e1e1e" stroke-width="1.2" />
<polyline points="592.2,339.9 592.2,441.3" stroke="#1e1e1e" stroke-width="2.6" fill="none" stroke-linecap="square"/>
<polyline points="592.2,339.9 592.2,441.3" stroke="#fff" stroke-width="0.5" fill="none"/>
<line x1="591" y1="440.5" x2="697" y2="440.5" stroke="#1e1e1e" stroke-width="2.0" />
<line x1="602" y1="437.6" x2="690" y2="437.6" stroke="#1e1e1e" stroke-width="1.0" />
<polyline points="592.2,340.7 613.6,340.7" stroke="#1e1e1e" stroke-width="1.8" fill="none" />
<path d="M613.6,340.7 A13.1,13.1 0 0 0 626.7,353.8" stroke="#1e1e1e" stroke-width="1.0" fill="none" />
<rect x="625.9" y="340.7" width="2.6" height="14" fill="#1e1e1e" />
<rect x="626.7" y="340.2" width="37.6" height="18" fill="none" stroke="#1e1e1e" stroke-width="2.0"/>
<rect x="629" y="342.5" width="33" height="13.5" fill="none" stroke="#1e1e1e" stroke-width="0.8"/>
<rect x="632" y="346" width="6" height="5.2" fill="none" stroke="#1e1e1e" stroke-width="1.3"/>
<path d="M638.2,340.2 A11.8,11.8 0 0 1 661.4,337.15" stroke="#1e1e1e" stroke-width="1.0" fill="none" />
<polyline points="679.2,340.7 696.7,340.7" stroke="#1e1e1e" stroke-width="1.8" fill="none" />
<path d="M678.3,340.7 A14,14 0 0 1 664.3,354.7" stroke="#1e1e1e" stroke-width="1.0" fill="none" />
<polyline points="691.9,348 691.9,441" stroke="#1e1e1e" stroke-width="2.6" fill="none" stroke-linecap="square"/>
<polyline points="691.9,348 691.9,441" stroke="#fff" stroke-width="0.5" fill="none"/>
<rect x="695" y="340.7" width="2.6" height="14" fill="#1e1e1e" />
<path d="M711.1,340.7 A13.5,13.5 0 0 1 697.6,354.2" stroke="#1e1e1e" stroke-width="1.0" fill="none" />
<line x1="697" y1="340.7" x2="712" y2="340.7" stroke="#1e1e1e" stroke-width="1.4" />
<rect x="634.6" y="358.2" width="9.6" height="23.6" fill="none" stroke="#1e1e1e" stroke-width="1.1"/>
<rect x="647.7" y="358.2" width="9.6" height="23.6" fill="none" stroke="#1e1e1e" stroke-width="1.1"/>
<circle cx="639.4" cy="363.5" r="3.1" fill="none" stroke="#1e1e1e" stroke-width="1.4"/>
<circle cx="639.4" cy="375.7" r="3.1" fill="none" stroke="#1e1e1e" stroke-width="1.4"/>
<circle cx="652.5" cy="363.5" r="3.1" fill="none" stroke="#1e1e1e" stroke-width="1.4"/>
<circle cx="652.5" cy="375.7" r="3.1" fill="none" stroke="#1e1e1e" stroke-width="1.4"/>
<polyline points="646.4,358.2 646.4,437" stroke="#1e1e1e" stroke-width="3.6" fill="none" stroke-linecap="square"/>
<polyline points="646.4,358.2 646.4,437" stroke="#fff" stroke-width="1.5" fill="none"/>
<polyline points="614.5,383.1 678.3,383.1" stroke="#1e1e1e" stroke-width="2.6" fill="none" stroke-linecap="square"/>
<polyline points="614.5,383.1 678.3,383.1" stroke="#fff" stroke-width="0.5" fill="none"/>
<polyline points="619.7,396.3 672.2,396.3" stroke="#1e1e1e" stroke-width="2.6" fill="none" stroke-linecap="square"/>
<polyline points="619.7,396.3 672.2,396.3" stroke="#fff" stroke-width="0.5" fill="none"/>
<polyline points="614.5,408.5 643,408.5" stroke="#1e1e1e" stroke-width="2.4" fill="none" stroke-linecap="square"/>
<polyline points="614.5,408.5 643,408.5" stroke="#fff" stroke-width="0.3" fill="none"/>
<polyline points="650,408.5 678.3,408.5" stroke="#1e1e1e" stroke-width="2.4" fill="none" stroke-linecap="square"/>
<polyline points="650,408.5 678.3,408.5" stroke="#fff" stroke-width="0.3" fill="none"/>
<path d="M641,387.5 h-5 a3,3 0 0 0 0,6 h5 z" stroke="#1e1e1e" stroke-width="1.1" fill="none" />
<rect x="641" y="386.7" width="2.2" height="7.6" fill="#1e1e1e" />
<path d="M652,387.5 h5 a3,3 0 0 1 0,6 h-5 z" stroke="#1e1e1e" stroke-width="1.1" fill="none" />
<rect x="649.8" y="386.7" width="2.2" height="7.6" fill="#1e1e1e" />
<path d="M641,399.5 h-5 a3,3 0 0 0 0,6 h5 z" stroke="#1e1e1e" stroke-width="1.1" fill="none" />
<rect x="641" y="398.7" width="2.2" height="7.6" fill="#1e1e1e" />
<path d="M652,399.5 h5 a3,3 0 0 1 0,6 h-5 z" stroke="#1e1e1e" stroke-width="1.1" fill="none" />
<rect x="649.8" y="398.7" width="2.2" height="7.6" fill="#1e1e1e" />
<path d="M641,426.5 h-5 a3,3 0 0 0 0,6 h5 z" stroke="#1e1e1e" stroke-width="1.1" fill="none" />
<rect x="641" y="425.7" width="2.2" height="7.6" fill="#1e1e1e" />
<path d="M652,426.5 h5 a3,3 0 0 1 0,6 h-5 z" stroke="#1e1e1e" stroke-width="1.1" fill="none" />
<rect x="649.8" y="425.7" width="2.2" height="7.6" fill="#1e1e1e" />
<path d="M630.7,384 A11,11 0 0 1 619.7,395" stroke="#1e1e1e" stroke-width="0.9" fill="none" />
<path d="M619.7,397 A11,11 0 0 1 630.7,408" stroke="#1e1e1e" stroke-width="0.9" fill="none" />
<path d="M661.2,408 A11,11 0 0 1 672.2,397" stroke="#1e1e1e" stroke-width="0.9" fill="none" />
<path d="M602.2,396.7 A12.3,12.3 0 0 1 614.5,409" stroke="#1e1e1e" stroke-width="1.0" fill="none" />
<rect x="601.4" y="395.8" width="2.6" height="13.2" fill="#1e1e1e" />
<path d="M678.3,409 A12.3,12.3 0 0 1 690.6,396.7" stroke="#1e1e1e" stroke-width="1.0" fill="none" />
<rect x="689.3" y="395.8" width="2.6" height="13.2" fill="#1e1e1e" />
<polyline points="601.2,409 601.2,437" stroke="#1e1e1e" stroke-width="1.8" fill="none" stroke-linecap="square"/>
<polyline points="601.2,409 601.2,437" stroke="#fff" stroke-width="-0.3" fill="none"/>
<rect x="592.6" y="381" width="7.9" height="58.6" fill="none" stroke="#1e1e1e" stroke-width="1.3"/>
<line x1="592.6" y1="381" x2="600.5" y2="439.6" stroke="#1e1e1e" stroke-width="0.8"  style="shape-rendering:auto"/>
<line x1="600.5" y1="381" x2="592.6" y2="439.6" stroke="#1e1e1e" stroke-width="0.8"  style="shape-rendering:auto"/>
<polyline points="693.9,369 693.9,415" stroke="#1e1e1e" stroke-width="2.4" fill="none" stroke-linecap="square"/>
<polyline points="693.9,369 693.9,415" stroke="#fff" stroke-width="0.3" fill="none"/>
<line x1="695.2" y1="372.5" x2="710.1" y2="372.5" stroke="#1e1e1e" stroke-width="1.0" />
<line x1="695.2" y1="375.5" x2="710.1" y2="375.5" stroke="#1e1e1e" stroke-width="1.0" />
<line x1="695.2" y1="379.5" x2="710.1" y2="379.5" stroke="#1e1e1e" stroke-width="1.0" />
<line x1="695.2" y1="382.5" x2="710.1" y2="382.5" stroke="#1e1e1e" stroke-width="1.0" />
<line x1="695.2" y1="386.5" x2="710.1" y2="386.5" stroke="#1e1e1e" stroke-width="1.0" />
<line x1="695.2" y1="390.5" x2="710.1" y2="390.5" stroke="#1e1e1e" stroke-width="1.0" />
<line x1="695.2" y1="393.5" x2="710.1" y2="393.5" stroke="#1e1e1e" stroke-width="1.0" />
<line x1="695.2" y1="397.5" x2="710.1" y2="397.5" stroke="#1e1e1e" stroke-width="1.0" />
<line x1="695.2" y1="401.5" x2="710.1" y2="401.5" stroke="#1e1e1e" stroke-width="1.0" />
<line x1="695.2" y1="404.5" x2="710.1" y2="404.5" stroke="#1e1e1e" stroke-width="1.0" />
<line x1="695.2" y1="408.5" x2="710.1" y2="408.5" stroke="#1e1e1e" stroke-width="1.0" />
<line x1="695.2" y1="412.5" x2="710.1" y2="412.5" stroke="#1e1e1e" stroke-width="1.0" />
<polyline points="711.8,371 711.8,412" stroke="#1e1e1e" stroke-width="3" fill="none" stroke-linecap="square"/>
<polyline points="711.8,371 711.8,412" stroke="#fff" stroke-width="0.9" fill="none"/>
<polyline points="712.7,415.7 712.7,366.7 717,366.7 721,362.2 732.8,362.2" stroke="#1e1e1e" stroke-width="1.4" fill="none" />
<line x1="713.6" y1="387.5" x2="731.1" y2="387.5" stroke="#1e1e1e" stroke-width="1.0" />
<line x1="713.6" y1="391.5" x2="731.1" y2="391.5" stroke="#1e1e1e" stroke-width="1.0" />
<line x1="713.6" y1="394.5" x2="731.1" y2="394.5" stroke="#1e1e1e" stroke-width="1.0" />
<line x1="713.6" y1="398.5" x2="731.1" y2="398.5" stroke="#1e1e1e" stroke-width="1.0" />
<line x1="713.6" y1="401.5" x2="731.1" y2="401.5" stroke="#1e1e1e" stroke-width="1.0" />
<line x1="713.6" y1="405.5" x2="731.1" y2="405.5" stroke="#1e1e1e" stroke-width="1.0" />
<line x1="713.6" y1="408.5" x2="731.1" y2="408.5" stroke="#1e1e1e" stroke-width="1.0" />
<line x1="713.6" y1="412.5" x2="731.1" y2="412.5" stroke="#1e1e1e" stroke-width="1.0" />
<line x1="713.6" y1="397.3" x2="731.1" y2="387.7" stroke="#1e1e1e" stroke-width="0.9"  style="shape-rendering:auto"/>
<polyline points="732.4,367.6 732.4,433.2" stroke="#1e1e1e" stroke-width="2.6" fill="none" stroke-linecap="square"/>
<polyline points="732.4,367.6 732.4,433.2" stroke="#fff" stroke-width="0.5" fill="none"/>
<line x1="692" y1="432.5" x2="760" y2="432.5" stroke="#1e1e1e" stroke-width="2.0" />
<polyline points="758.6,367.6 758.6,433.2" stroke="#1e1e1e" stroke-width="2.6" fill="none" stroke-linecap="square"/>
<polyline points="758.6,367.6 758.6,433.2" stroke="#fff" stroke-width="0.5" fill="none"/>
<line x1="747" y1="367.8" x2="760" y2="367.8" stroke="#1e1e1e" stroke-width="1.6" />
<path d="M733.7,382.5 A14.9,14.9 0 0 0 748.6,367.6" stroke="#1e1e1e" stroke-width="1.0" fill="none" />
<rect x="757.3" y="367.6" width="3.5" height="14.9" fill="#1e1e1e" />
<path d="M760.8,367.6 A14.9,14.9 0 0 1 775.7,382.5" stroke="#1e1e1e" stroke-width="1.0" fill="none" />
<polyline points="775.7,382 783,382" stroke="#1e1e1e" stroke-width="1.6" fill="none" />
<polyline points="783.1,367.6 783.1,441" stroke="#1e1e1e" stroke-width="2.6" fill="none" stroke-linecap="square"/>
<polyline points="783.1,367.6 783.1,441" stroke="#fff" stroke-width="0.5" fill="none"/>
<polyline points="783.1,367.8 883,367.8" stroke="#1e1e1e" stroke-width="2.6" fill="none" stroke-linecap="square"/>
<polyline points="783.1,367.8 883,367.8" stroke="#fff" stroke-width="0.5" fill="none"/>
<line x1="784.4" y1="376.7" x2="883" y2="376.7" stroke="#1e1e1e" stroke-width="1.3" />
<path d="M784.4,386.4 A13.6,13.6 0 0 1 798,400" stroke="#1e1e1e" stroke-width="1.0" fill="none" />
<rect x="784.4" y="399" width="14" height="2.7" fill="#1e1e1e" />
<line x1="783" y1="403.3" x2="887" y2="403.3" stroke="#1e1e1e" stroke-width="1.5" />
<line x1="781" y1="415" x2="788" y2="415" stroke="#1e1e1e" stroke-width="1.0" />
<line x1="781" y1="430" x2="788" y2="430" stroke="#1e1e1e" stroke-width="1.0" />
<line x1="884" y1="368.5" x2="899.2" y2="368.5" stroke="#1e1e1e" stroke-width="1.0" />
<line x1="884" y1="372.5" x2="899.2" y2="372.5" stroke="#1e1e1e" stroke-width="1.0" />
<line x1="884" y1="376.5" x2="899.2" y2="376.5" stroke="#1e1e1e" stroke-width="1.0" />
<line x1="884" y1="380.5" x2="899.2" y2="380.5" stroke="#1e1e1e" stroke-width="1.0" />
<line x1="884" y1="384.5" x2="899.2" y2="384.5" stroke="#1e1e1e" stroke-width="1.0" />
<line x1="884" y1="388.5" x2="899.2" y2="388.5" stroke="#1e1e1e" stroke-width="1.0" />
<line x1="884" y1="392.5" x2="899.2" y2="392.5" stroke="#1e1e1e" stroke-width="1.0" />
<line x1="884" y1="395.5" x2="899.2" y2="395.5" stroke="#1e1e1e" stroke-width="1.0" />
<line x1="884" y1="399.5" x2="899.2" y2="399.5" stroke="#1e1e1e" stroke-width="1.0" />
<line x1="884" y1="403.5" x2="899.2" y2="403.5" stroke="#1e1e1e" stroke-width="1.0" />
<line x1="884" y1="407.5" x2="899.2" y2="407.5" stroke="#1e1e1e" stroke-width="1.0" />
<line x1="884" y1="411.5" x2="899.2" y2="411.5" stroke="#1e1e1e" stroke-width="1.0" />
<line x1="884" y1="415.5" x2="899.2" y2="415.5" stroke="#1e1e1e" stroke-width="1.0" />
<line x1="903" y1="368.5" x2="920.6" y2="368.5" stroke="#1e1e1e" stroke-width="1.0" />
<line x1="903" y1="372.5" x2="920.6" y2="372.5" stroke="#1e1e1e" stroke-width="1.0" />
<line x1="903" y1="376.5" x2="920.6" y2="376.5" stroke="#1e1e1e" stroke-width="1.0" />
<line x1="903" y1="380.5" x2="920.6" y2="380.5" stroke="#1e1e1e" stroke-width="1.0" />
<line x1="903" y1="384.5" x2="920.6" y2="384.5" stroke="#1e1e1e" stroke-width="1.0" />
<line x1="903" y1="388.5" x2="920.6" y2="388.5" stroke="#1e1e1e" stroke-width="1.0" />
<line x1="903" y1="392.5" x2="920.6" y2="392.5" stroke="#1e1e1e" stroke-width="1.0" />
<line x1="903" y1="395.5" x2="920.6" y2="395.5" stroke="#1e1e1e" stroke-width="1.0" />
<line x1="903" y1="399.5" x2="920.6" y2="399.5" stroke="#1e1e1e" stroke-width="1.0" />
<line x1="903" y1="403.5" x2="920.6" y2="403.5" stroke="#1e1e1e" stroke-width="1.0" />
<line x1="903" y1="407.5" x2="920.6" y2="407.5" stroke="#1e1e1e" stroke-width="1.0" />
<line x1="903" y1="411.5" x2="920.6" y2="411.5" stroke="#1e1e1e" stroke-width="1.0" />
<line x1="903" y1="415.5" x2="920.6" y2="415.5" stroke="#1e1e1e" stroke-width="1.0" />
<polyline points="900.8,368 900.8,416" stroke="#1e1e1e" stroke-width="3.4" fill="none" stroke-linecap="square"/>
<polyline points="900.8,368 900.8,416" stroke="#fff" stroke-width="1.3" fill="none"/>
<line x1="903" y1="400" x2="920" y2="387" stroke="#1e1e1e" stroke-width="0.9"  style="shape-rendering:auto"/>
<polyline points="885.6,367.6 885.6,436" stroke="#1e1e1e" stroke-width="2.6" fill="none" stroke-linecap="square"/>
<polyline points="885.6,367.6 885.6,436" stroke="#fff" stroke-width="0.5" fill="none"/>
<line x1="885" y1="368" x2="926" y2="368" stroke="#1e1e1e" stroke-width="1.2" />
<line x1="885" y1="415.8" x2="926" y2="415.8" stroke="#1e1e1e" stroke-width="1.2" />
<line x1="690" y1="441.4" x2="700" y2="441.4" stroke="#1e1e1e" stroke-width="1.8" />
<polyline points="195,434 195,472.3" stroke="#1e1e1e" stroke-width="2.4" fill="none" stroke-linecap="square"/>
<polyline points="195,434 195,472.3" stroke="#fff" stroke-width="0.3" fill="none"/>
<polyline points="195,472.3 215.6,472.3 215.6,493" stroke="#1e1e1e" stroke-width="1.8" fill="none" />
<polyline points="215.6,505.7 215.6,523.4 246.2,523.4" stroke="#1e1e1e" stroke-width="1.8" fill="none" />
<path d="M196,474.7 A15.7,15.7 0 0 0 196,506.1" stroke="#1e1e1e" stroke-width="1.0" fill="none" />
<polyline points="142,490.5 180,490.5" stroke="#1e1e1e" stroke-width="2.6" fill="none" stroke-linecap="square"/>
<polyline points="142,490.5 180,490.5" stroke="#fff" stroke-width="0.5" fill="none"/>
<polyline points="180,490.5 196,490.5" stroke="#1e1e1e" stroke-width="4.2" fill="none" stroke-linecap="square"/>
<polyline points="180,490.5 196,490.5" stroke="#fff" stroke-width="2.1" fill="none"/>
<polyline points="142.4,482 142.4,490" stroke="#1e1e1e" stroke-width="1.4" fill="none" />
<polyline points="195,507.7 195,544" stroke="#1e1e1e" stroke-width="2.4" fill="none" stroke-linecap="square"/>
<polyline points="195,507.7 195,544" stroke="#fff" stroke-width="0.3" fill="none"/>
<polyline points="142.8,550 142.8,543 195,543" stroke="#1e1e1e" stroke-width="1.8" fill="none" />
<path d="M196,544.1 A16.7,16.7 0 0 0 212.7,560.8" stroke="#1e1e1e" stroke-width="1.0" fill="none" />
<polyline points="213.7,544 213.7,598" stroke="#1e1e1e" stroke-width="3.2" fill="none" stroke-linecap="square"/>
<polyline points="213.7,544 213.7,598" stroke="#fff" stroke-width="1.1" fill="none"/>
<path d="M229.4,544.1 A12.8,12.8 0 0 1 216.6,556.9" stroke="#1e1e1e" stroke-width="1.0" fill="none" />
<polyline points="228.4,543 270.5,543" stroke="#1e1e1e" stroke-width="1.8" fill="none" />
<polyline points="254,434 254,518.5" stroke="#1e1e1e" stroke-width="2.4" fill="none" stroke-linecap="square"/>
<polyline points="254,434 254,518.5" stroke="#fff" stroke-width="0.3" fill="none"/>
<polyline points="245,520 270,520" stroke="#1e1e1e" stroke-width="2.4" fill="none" />
<polyline points="245.5,518.5 245.5,526" stroke="#1e1e1e" stroke-width="2.0" fill="none" />
<path d="M247.1,527.2 A14,14 0 0 1 261.1,541.2" stroke="#1e1e1e" stroke-width="1.0" fill="none" />
<rect x="244" y="540" width="17" height="2.2" fill="#1e1e1e" />
<polyline points="270.3,519 272,519 272,523 320,523" stroke="#1e1e1e" stroke-width="1.8" fill="none" />
<path d="M320,523.5 A14.7,14.7 0 0 1 334.7,508.8" stroke="#1e1e1e" stroke-width="1.0" fill="none" />
<rect x="333.5" y="508.5" width="3.2" height="16" fill="#1e1e1e" />
<polyline points="326,434.4 326,466" stroke="#1e1e1e" stroke-width="2.6" fill="none" stroke-linecap="square"/>
<polyline points="326,434.4 326,466" stroke="#fff" stroke-width="0.5" fill="none"/>
<polyline points="325.6,466 337,466" stroke="#1e1e1e" stroke-width="1.8" fill="none" />
<polyline points="336.6,466 336.6,524.7" stroke="#1e1e1e" stroke-width="2.6" fill="none" stroke-linecap="square"/>
<polyline points="336.6,466 336.6,524.7" stroke="#fff" stroke-width="0.5" fill="none"/>
<polyline points="356,464.8 356,524.7" stroke="#1e1e1e" stroke-width="2.2" fill="none" stroke-linecap="square"/>
<polyline points="356,464.8 356,524.7" stroke="#fff" stroke-width="0.1" fill="none"/>
<polyline points="341.4,446 356.1,446" stroke="#1e1e1e" stroke-width="2.6" fill="none" />
<path d="M342.5,446.8 A13.5,13.5 0 0 0 356,460.3" stroke="#1e1e1e" stroke-width="1.0" fill="none" />
<path d="M286,542.7 A12.3,12.3 0 0 1 273.7,555" stroke="#1e1e1e" stroke-width="1.0" fill="none" />
<polyline points="272,543 272,598" stroke="#1e1e1e" stroke-width="3" fill="none" stroke-linecap="square"/>
<polyline points="272,543 272,598" stroke="#fff" stroke-width="0.9" fill="none"/>
<polyline points="286,543 323,543" stroke="#1e1e1e" stroke-width="1.8" fill="none" />
<polyline points="336,433 372,433" stroke="#1e1e1e" stroke-width="2.2" fill="none" stroke-linecap="square"/>
<polyline points="336,433 372,433" stroke="#fff" stroke-width="0.1" fill="none"/>
<polyline points="336,439.5 372,439.5" stroke="#1e1e1e" stroke-width="2.2" fill="none" stroke-linecap="square"/>
<polyline points="336,439.5 372,439.5" stroke="#fff" stroke-width="0.1" fill="none"/>
<path d="M357.3,432 A15.7,15.7 0 0 1 373,416.3" stroke="#1e1e1e" stroke-width="1.0" fill="none" />
<rect x="372" y="416" width="2.5" height="16" fill="#1e1e1e" />
<path d="M375,441 A15,15 0 0 1 390,426" stroke="#1e1e1e" stroke-width="1.0" fill="none" />
<rect x="389" y="426" width="2.5" height="15" fill="#1e1e1e" />
<line x1="375" y1="441.3" x2="412" y2="441.3" stroke="#1e1e1e" stroke-width="1.4" />
<line x1="360" y1="465.5" x2="788" y2="465.5" stroke="#3c3c3c" stroke-width="2.4" />
<line x1="787.5" y1="403.3" x2="787.5" y2="465" stroke="#3c3c3c" stroke-width="2.4" />
<line x1="360.3" y1="465" x2="360.3" y2="543" stroke="#3c3c3c" stroke-width="1.6" />
<polyline points="719.4,177 719.4,236.3" stroke="#3c3c3c" stroke-width="1.9" fill="none" />
<polyline points="719.4,232 812.4,232" stroke="#3c3c3c" stroke-width="1.9" fill="none" />
<polyline points="764.3,177 764.3,232" stroke="#3c3c3c" stroke-width="1.9" fill="none" />
<polyline points="812.4,177 812.4,232" stroke="#3c3c3c" stroke-width="1.9" fill="none" />
<path d="M749.8,232 A14.5,14.5 0 0 1 764.3,217.5" stroke="#3c3c3c" stroke-width="1.0" fill="none" />
<path d="M796.3,232 A14.5,14.5 0 0 1 810.8,217.5" stroke="#3c3c3c" stroke-width="1.0" fill="none" />
<path d="M719.4,236.3 A16,16 0 0 0 703.4,252.3" stroke="#3c3c3c" stroke-width="1.0" fill="none" />
<polyline points="676,252.3 732.2,252.3 732.2,295" stroke="#3c3c3c" stroke-width="1.9" fill="none" />
<path d="M717.2,310 A15,15 0 0 1 732.2,295" stroke="#3c3c3c" stroke-width="1.0" fill="none" />
<polyline points="676,314 733,314" stroke="#1e1e1e" stroke-width="2.4" fill="none" stroke-linecap="square"/>
<polyline points="676,314 733,314" stroke="#fff" stroke-width="0.3" fill="none"/>
<polyline points="733.5,313 733.5,323" stroke="#1e1e1e" stroke-width="2.6" fill="none" />
<path d="M735.6,321.7 A14,14 0 0 1 749.6,335.7" stroke="#1e1e1e" stroke-width="1.0" fill="none" />
<polyline points="733.5,335 733.5,339" stroke="#1e1e1e" stroke-width="2.6" fill="none" />
<line x1="716" y1="348.2" x2="888" y2="348.2" stroke="#1e1e1e" stroke-width="2.0" />
<line x1="888" y1="343.2" x2="935" y2="343.2" stroke="#1e1e1e" stroke-width="2.0" />
<line x1="888" y1="343" x2="888" y2="348.5" stroke="#1e1e1e" stroke-width="1.5" />
<line x1="719" y1="341" x2="733" y2="341" stroke="#3c3c3c" stroke-width="1.0" />
<rect x="714.5" y="339.6" width="5.2" height="9.6" fill="#1e1e1e" />
<line x1="788" y1="403.3" x2="887" y2="403.3" stroke="#3c3c3c" stroke-width="1.5" />
<polyline points="885.5,403.3 885.5,436" stroke="#3c3c3c" stroke-width="1.9" fill="none" />
<polyline points="822,403.5 822,436" stroke="#3c3c3c" stroke-width="1.9" fill="none" />
<rect x="813.5" y="423" width="9.1" height="13" fill="none" stroke="#3c3c3c" stroke-width="1.9"/>
<path d="M800.5,436 A13,13 0 0 1 813.5,423" stroke="#3c3c3c" stroke-width="1.0" fill="none" />
<path d="M825.7,423 A13,13 0 0 1 838.7,436" stroke="#3c3c3c" stroke-width="1.0" fill="none" />
<polyline points="788,436.5 887,436.5" stroke="#3c3c3c" stroke-width="1.9" fill="none" />
<polyline points="873.7,438 873.7,534" stroke="#3c3c3c" stroke-width="1.9" fill="none" />
<path d="M873.7,450.5 A13.5,13.5 0 0 0 887.2,437" stroke="#3c3c3c" stroke-width="1.0" fill="none" />
<polyline points="890.8,503.4 932,503.4" stroke="#3c3c3c" stroke-width="1.9" fill="none" />
<path d="M890.5,503.4 A16,16 0 0 1 874.5,519.4" stroke="#3c3c3c" stroke-width="1.0" fill="none" />
<path d="M873,531 A8,8 0 0 0 873,547" stroke="#3c3c3c" stroke-width="1.0" fill="none" />
<path d="M798.6,441.5 A10,10 0 0 1 788.6,451.5" stroke="#3c3c3c" stroke-width="1.0" fill="none" />
<rect x="782.5" y="436.6" width="6.1" height="5" fill="none" stroke="#1e1e1e" stroke-width="1.2"/>
<rect x="782.5" y="454.5" width="6.1" height="10" fill="none" stroke="#1e1e1e" stroke-width="1.2"/>
<polyline points="873,547.2 873,534" stroke="#3c3c3c" stroke-width="1.9" fill="none" />
<polyline points="372.8,524 494.8,524" stroke="#3c3c3c" stroke-width="1.9" fill="none" />
<polyline points="437.6,464.4 437.6,524" stroke="#3c3c3c" stroke-width="1.9" fill="none" />
<polyline points="494.3,464.4 494.3,524" stroke="#3c3c3c" stroke-width="1.9" fill="none" />
<path d="M359.7,510.5 A13.5,13.5 0 0 1 373.2,524" stroke="#3c3c3c" stroke-width="1.0" fill="none" />
<path d="M439.7,510 A14,14 0 0 1 453.7,524" stroke="#3c3c3c" stroke-width="1.0" fill="none" />
<polyline points="525,464.4 525,480" stroke="#3c3c3c" stroke-width="2.2" fill="none" />
<polyline points="553,464.4 553,480" stroke="#3c3c3c" stroke-width="2.2" fill="none" />
<path d="M525,478.4 A14,14 0 0 0 539,464.4" stroke="#3c3c3c" stroke-width="1.0" fill="none" />
<path d="M553,478.4 A14,14 0 0 1 539,464.4" stroke="#3c3c3c" stroke-width="1.0" fill="none" />
<polyline points="585.3,464.4 585.3,521.3 607.6,521.3" stroke="#3c3c3c" stroke-width="1.9" fill="none" />
<path d="M607,521.3 A13,13 0 0 1 620,508.3" stroke="#3c3c3c" stroke-width="1.0" fill="none" />
<polyline points="623.4,464.4 623.4,521" stroke="#3c3c3c" stroke-width="1.9" fill="none" />
<path d="M630.5,464.4 A15,15 0 0 0 645.5,479.4" stroke="#3c3c3c" stroke-width="1.0" fill="none" />
<polyline points="647,464.4 647,519.6 661.7,519.6 661.7,524.7" stroke="#3c3c3c" stroke-width="1.9" fill="none" />
<path d="M661.7,524.7 A16,16 0 0 1 677.7,540.7" stroke="#3c3c3c" stroke-width="1.0" fill="none" />
<polyline points="661.7,542.3 694.2,542.3" stroke="#3c3c3c" stroke-width="1.9" fill="none" />
<polyline points="359,543.6 694,543.6" stroke="#3c3c3c" stroke-width="1.9" fill="none" />
<path d="M619,544 A15,15 0 0 0 634,559" stroke="#3c3c3c" stroke-width="1.0" fill="none" />
<path d="M649,544 A15,15 0 0 1 634,559" stroke="#3c3c3c" stroke-width="1.0" fill="none" />
<polyline points="634,544 634,596 647,596" stroke="#3c3c3c" stroke-width="1.9" fill="none" />
<path d="M363.8,543.6 A15,15 0 0 0 378.8,558.6" stroke="#3c3c3c" stroke-width="1.0" fill="none" />
<path d="M416.8,543.6 A15,15 0 0 0 431.8,558.6" stroke="#3c3c3c" stroke-width="1.0" fill="none" />
<path d="M448.2,543.6 A15,15 0 0 1 433.2,558.6" stroke="#3c3c3c" stroke-width="1.0" fill="none" />
<path d="M502,543.6 A15,15 0 0 1 487,558.6" stroke="#3c3c3c" stroke-width="1.0" fill="none" />
<path d="M561.2,543.6 A15,15 0 0 0 576.2,558.6" stroke="#3c3c3c" stroke-width="1.0" fill="none" />
<polyline points="378.8,543.6 378.8,598" stroke="#3c3c3c" stroke-width="1.9" fill="none" />
<polyline points="431.8,543.6 431.8,598" stroke="#3c3c3c" stroke-width="1.9" fill="none" />
<polyline points="487,543.6 487,598" stroke="#3c3c3c" stroke-width="1.9" fill="none" />
<polyline points="535.5,543.6 535.5,598" stroke="#3c3c3c" stroke-width="1.9" fill="none" />
<polyline points="577.5,543.6 577.5,598" stroke="#3c3c3c" stroke-width="1.9" fill="none" />
<polyline points="694.2,464.4 694.2,600" stroke="#1e1e1e" stroke-width="2.4" fill="none" stroke-linecap="square"/>
<polyline points="694.2,464.4 694.2,600" stroke="#fff" stroke-width="0.3" fill="none"/>
<polyline points="739.7,464.4 739.7,524.5" stroke="#3c3c3c" stroke-width="1.9" fill="none" />
<path d="M723.7,524.5 A16,16 0 0 1 739.7,508.5" stroke="#3c3c3c" stroke-width="1.0" fill="none" />
<path d="M739.7,508.5 A16,16 0 0 1 755.7,524.5" stroke="#3c3c3c" stroke-width="1.0" fill="none" />
<polyline points="697.5,524.5 795,524.5 804.7,514.7 804.7,474 795,464.4" stroke="#3c3c3c" stroke-width="1.9" fill="none" />
<polyline points="697.5,547.2 856.7,547.2 876,565 876,600" stroke="#3c3c3c" stroke-width="1.9" fill="none" />
<polyline points="739.7,547.2 739.7,600" stroke="#3c3c3c" stroke-width="1.9" fill="none" />
<polyline points="786.8,547.2 786.8,600" stroke="#3c3c3c" stroke-width="1.9" fill="none" />
<polyline points="830.7,547.2 830.7,600" stroke="#3c3c3c" stroke-width="1.9" fill="none" />
<path d="M723.5,547.2 A16,16 0 0 0 739.5,563.2" stroke="#3c3c3c" stroke-width="1.0" fill="none" />
<path d="M755.5,547.2 A16,16 0 0 1 739.5,563.2" stroke="#3c3c3c" stroke-width="1.0" fill="none" />
<path d="M801.8,547.2 A15,15 0 0 1 786.8,562.2" stroke="#3c3c3c" stroke-width="1.0" fill="none" />
<path d="M845.7,547.2 A15,15 0 0 1 830.7,562.2" stroke="#3c3c3c" stroke-width="1.0" fill="none" />
<polygon points="676.5,176.6 933.8,176.6 933.8,343 888,343 888,348.3 719.2,348.3 719.2,338.6 736,338.6 736,312.4 676.5,312.4" fill="rgb(128,204,191)" fill-opacity="0.82"/>
<polygon points="360.3,464.4 788,464.4 788,403.3 887.4,403.3 887.4,436 932.5,436 932.5,600.8 325,600.8 325,543.5 360.3,543.5" fill="rgb(128,204,191)" fill-opacity="0.82"/>
<line x1="697" y1="464.4" x2="697" y2="600.5" stroke="#fff" stroke-width="1.0" />
<polyline points="139,178 675.2,178 675.2,313.4 493.3,313.4 493.3,339 373,339 373,344.2 334.5,344.2 334.5,410.5 204.3,410.5 204.3,390 183.6,390 183.6,343.3 139,343.3 139,178" stroke="#e9e56a" stroke-width="2.9" fill="none" stroke-linejoin="miter" stroke-opacity="0.85" class="y"/>
<polyline points="139,434.8 184,434.8 184,432.4 326.3,432.4 326.3,439.4 359,439.4 359,541.6 323.4,541.6 323.4,599.6 139,599.6 139,434.8" stroke="#e9e56a" stroke-width="2.9" fill="none" stroke-linejoin="miter" stroke-opacity="0.85" class="y"/>
<text x="345" y="266" font-family="Liberation Sans" font-weight="bold" font-size="16.6" fill="#434343" textLength="79.8" lengthAdjust="spacingAndGlyphs">SUITE 205</text>
<text x="257" y="498.8" font-family="Liberation Sans" font-weight="bold" font-size="15.8" fill="#434343" textLength="74.8" lengthAdjust="spacingAndGlyphs">SUITE 216</text>
<text x="384.5" y="372" font-family="Liberation Sans" font-size="7.4" fill="#111" stroke="#111" stroke-width="0.3" textLength="17.5" lengthAdjust="spacingAndGlyphs">ELEC</text>
<text x="381.5" y="379.5" font-family="Liberation Sans" font-size="7.4" fill="#111" stroke="#111" stroke-width="0.3" textLength="23" lengthAdjust="spacingAndGlyphs">ROOM</text>
<text x="433.5" y="372" font-family="Liberation Sans" font-size="7.4" fill="#111" stroke="#111" stroke-width="0.3" textLength="14" lengthAdjust="spacingAndGlyphs">FAN</text>
<text x="429.5" y="379.5" font-family="Liberation Sans" font-size="7.4" fill="#111" stroke="#111" stroke-width="0.3" textLength="22.5" lengthAdjust="spacingAndGlyphs">ROOM</text>
<text x="643.3" y="352.2" font-family="Liberation Sans" font-size="7.4" fill="#111" stroke="#111" stroke-width="0.3" textLength="13.2" lengthAdjust="spacingAndGlyphs">JAN</text>
<text x="599" y="373.3" font-family="Liberation Sans" font-size="7.4" fill="#111" stroke="#111" stroke-width="0.3" textLength="28.5" lengthAdjust="spacingAndGlyphs">WOMENS</text>
<text x="664.5" y="373.3" font-family="Liberation Sans" font-size="7.4" fill="#111" stroke="#111" stroke-width="0.3" textLength="18.5" lengthAdjust="spacingAndGlyphs">MENS</text>
<text x="737.3" y="400" font-family="Liberation Sans" font-size="7.4" fill="#111" stroke="#111" stroke-width="0.3" textLength="16.5" lengthAdjust="spacingAndGlyphs">TELE</text>
<text x="735" y="407.8" font-family="Liberation Sans" font-size="7.4" fill="#111" stroke="#111" stroke-width="0.3" textLength="20" lengthAdjust="spacingAndGlyphs">ROOM</text>
<text x="815" y="391.5" font-family="Liberation Sans" font-size="7.4" fill="#111" stroke="#111" stroke-width="0.3" textLength="14" lengthAdjust="spacingAndGlyphs">MAIL</text>
<text x="834" y="391.5" font-family="Liberation Sans" font-size="7.4" fill="#111" stroke="#111" stroke-width="0.3" textLength="19.5" lengthAdjust="spacingAndGlyphs">ROOM</text>
<rect x="499" y="151.6" width="6" height="1.6" fill="#9a9a9a" />
<rect x="510" y="151.6" width="5" height="1.6" fill="#9a9a9a" />
<rect x="519" y="151.6" width="1.2" height="1.6" fill="#9a9a9a" />
<rect x="526.5" y="151.6" width="1.2" height="1.6" fill="#9a9a9a" />
<rect x="532" y="151.6" width="7.6" height="1.6" fill="#9a9a9a" />
<rect x="551" y="151.6" width="8" height="1.6" fill="#9a9a9a" />
<rect x="563" y="151.6" width="4.8" height="1.6" fill="#9a9a9a" />
<rect x="573" y="151.6" width="5" height="1.6" fill="#9a9a9a" />
</g>
</svg>
</body></html>
